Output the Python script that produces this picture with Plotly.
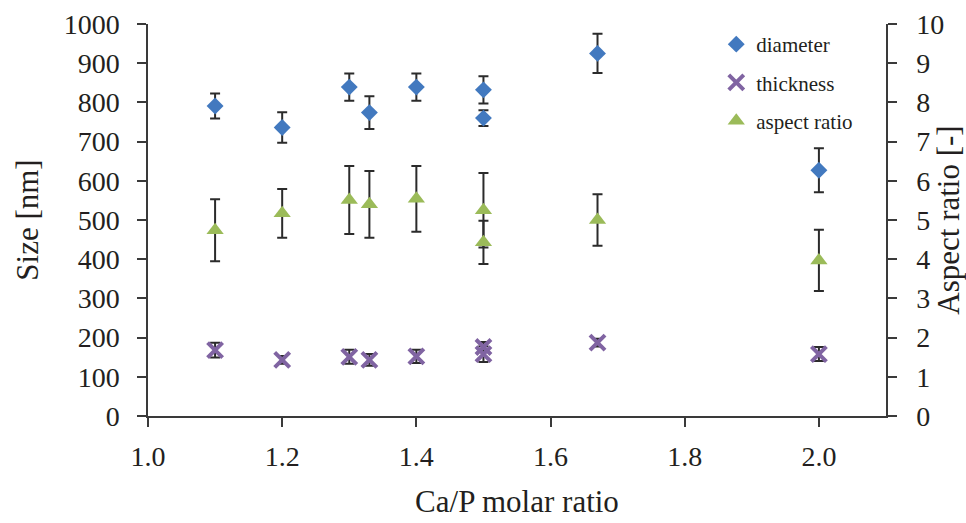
import plotly.graph_objects as go

# Data
ca_p = [1.1, 1.2, 1.3, 1.33, 1.4, 1.5, 1.5, 1.67, 2.0]

diameter = [791, 736, 839, 774, 839, 832, 760, 925, 627]
diameter_err = [32, 39, 35, 42, 35, 35, 20, 50, 56]

thickness = [168, 143, 151, 143, 152, 176, 158, 187, 158]
thickness_err = [19, 10, 18, 15, 17, 13, 20, 10, 18]

aspect = [4.74, 5.17, 5.51, 5.40, 5.54, 5.25, 4.43, 5.00, 3.97]
aspect_err = [0.79, 0.62, 0.87, 0.85, 0.84, 0.95, 0.55, 0.66, 0.78]

x_ticks = [1.0, 1.2, 1.4, 1.6, 1.8, 2.0]

FONT = "Liberation Serif, Times New Roman, serif"
AXC = "#3a3a3a"
TXT = "#231f20"

err_style = dict(type="data", color="#2b2b2b", thickness=2, width=5, visible=True)

fig = go.Figure()
fig.add_trace(go.Scatter(
    x=ca_p, y=diameter, mode="markers", name="diameter", legendgroup="a",
    marker=dict(symbol="diamond", size=13, color="#4279BF", line=dict(width=0)),
    error_y=dict(array=diameter_err, **err_style),
))
fig.add_trace(go.Scatter(
    x=ca_p, y=thickness, mode="markers", name="thickness", legendgroup="b",
    marker=dict(symbol="x-thin", size=15, color="#8064A2", line=dict(width=4, color="#8064A2")),
    error_y=dict(array=thickness_err, **err_style),
))
fig.add_trace(go.Scatter(
    x=ca_p, y=aspect, mode="markers", name="aspect ratio", legendgroup="c", yaxis="y2",
    marker=dict(symbol="triangle-up", size=15, color="#9BBB59", line=dict(width=0)),
    error_y=dict(array=aspect_err, **err_style),
))

axis_common = dict(
    showline=True, linecolor=AXC, linewidth=1.5, showgrid=False, zeroline=False,
    ticks="outside", ticklen=9, tickwidth=1.5, tickcolor=AXC, automargin=False,
    tickfont=dict(family=FONT, size=28, color=TXT),
    title_font=dict(family=FONT, size=31, color=TXT),
)

fig.update_layout(
    width=966, height=523,
    margin=dict(l=148, r=80, t=24, b=107),
    paper_bgcolor="white", plot_bgcolor="white",
    xaxis=dict(range=[1.0, 2.1], tickvals=x_ticks, tickformat=".1f",
               title_text="Ca/P molar ratio", title_standoff=19,
               ticklabelstandoff=6, **axis_common),
    yaxis=dict(range=[0, 1000], dtick=100, title_text="Size [nm]", title_standoff=16,
               ticklabelstandoff=12, **axis_common),
    yaxis2=dict(range=[0, 10], dtick=1, overlaying="y", side="right",
                title_text="Aspect ratio [-]", title_standoff=6,
                ticklabelstandoff=14, **axis_common),
    legend=dict(x=0.77, y=1.0, xanchor="left", yanchor="top",
                font=dict(family=FONT, size=21, color=TXT),
                tracegroupgap=8, bgcolor="rgba(0,0,0,0)", itemwidth=30),
    showlegend=True,
)

fig.write_html("out.html")
